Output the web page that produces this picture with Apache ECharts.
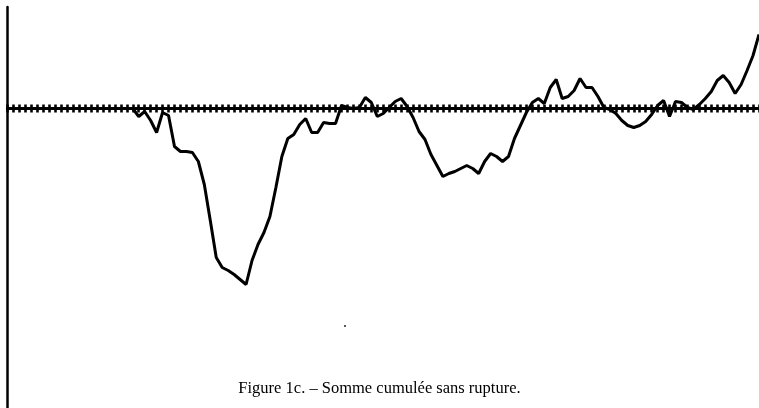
<!DOCTYPE html>
<html>
<head>
<meta charset="utf-8">
<script src="https://cdn.jsdelivr.net/npm/echarts@6/dist/echarts.min.js"></script>
<style>
  html, body { margin: 0; padding: 0; background: #fff; }
  #chart { width: 759px; height: 408px; }
</style>
</head>
<body>
<div id="chart"></div>
<script>
// cumulative sum, one value per step
const sums = [
  0, 0, 0, 0, 0, 0, 0, 0, 0, 0, 0, 0, 0, 0, 0, 0, 0, 0, 0, 0, 0, 0,
  -8, -3, -12, -24, -4, -7, -38, -43, -43, -44, -53, -76, -112, -149,
  -159, -162, -166, -171, -176, -152, -136, -124, -108, -79, -48, -30,
  -26, -16, -10, -24, -24, -14, -15, -15, 3, 1, 0, 1, 11, 6, -8, -5,
  1, 7, 10, 2, -9, -23, -31, -46, -57, -68, -65, -63, -60, -57, -60,
  -65, -53, -45, -48, -53, -48, -30, -17, -4, 6, 10, 5, 21, 29, 10, 12,
  18, 30, 21, 21, 12, 1, -1, -5, -12, -17, -19, -17, -13, -6, 3, 8, -8,
  7, 6, 1, -1, 4, 10, 17, 28, 33, 26, 15, 24, 38, 53, 74
];
const steps = sums.map((v, i) => i + 1);
const caption = "Figure 1c. \u2013 Somme cumulée sans rupture.";

const myChart = echarts.init(document.getElementById("chart"));

myChart.setOption({
  animation: false,
  title: {
    text: caption,
    left: "center",
    top: 375,
    textStyle: {
      fontFamily: "Liberation Serif",
      fontSize: 16.5,
      fontWeight: "normal",
      color: "#000",
    },
  },
  grid: [
    // main plot
    { left: 7.5, right: 0, top: 7, bottom: 0 },
    // helper grid whose bottom edge sits 4px under the zero line,
    // only used to draw the hatch ticks across the zero line
    { left: 7.5, right: 0, top: 0, bottom: 295.5 },
  ],
  xAxis: [
    {
      type: "category",
      gridIndex: 0,
      data: steps,
      boundaryGap: false,
      axisLine: {
        onZero: true,
        lineStyle: { color: "#000", width: 3 },
      },
      axisTick: { show: false },
      axisLabel: { show: false },
      splitLine: { show: false },
    },
    {
      type: "category",
      gridIndex: 1,
      position: "bottom",
      data: steps,
      boundaryGap: false,
      axisLine: { show: false },
      axisTick: {
        show: true,
        inside: true,
        interval: 0,
        length: 8,
        lineStyle: { color: "#000", width: 2.6 },
      },
      axisLabel: { show: false },
      splitLine: { show: false },
    },
  ],
  yAxis: [
    {
      type: "value",
      gridIndex: 0,
      min: -299.5,
      max: 101.5,
      axisLine: {
        show: true,
        lineStyle: { color: "#000", width: 2.5 },
      },
      axisTick: { show: false },
      axisLabel: { show: false },
      splitLine: { show: false },
    },
    {
      type: "value",
      gridIndex: 1,
      show: false,
    },
  ],
  graphic: [
    {
      type: "circle",
      shape: { cx: 345, cy: 326, r: 1 },
      style: { fill: "#222" },
    },
  ],
  series: [
    {
      type: "line",
      xAxisIndex: 0,
      yAxisIndex: 0,
      data: sums,
      showSymbol: false,
      smooth: false,
      lineStyle: { color: "#000", width: 3 },
      z: 3,
    },
  ],
});
</script>
</body>
</html>
